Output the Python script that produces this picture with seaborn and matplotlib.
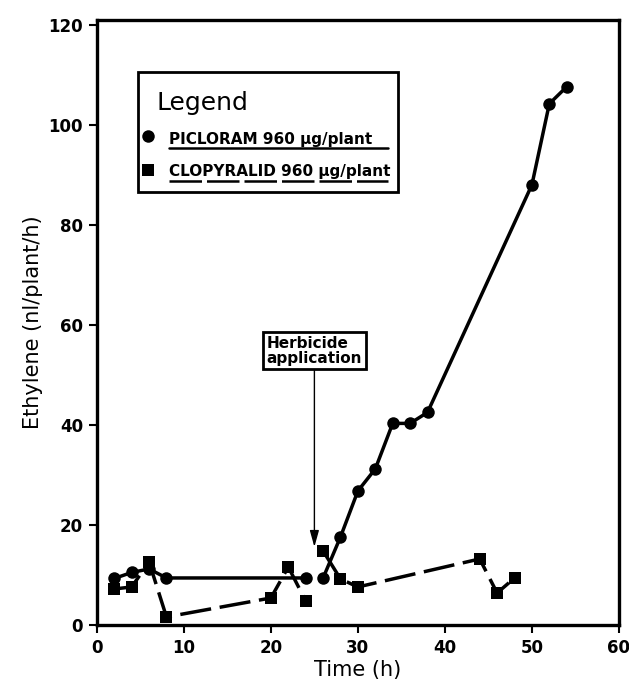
import matplotlib
matplotlib.use("Agg")
import matplotlib.pyplot as plt
import seaborn as sns
import pandas as pd
from matplotlib.patches import Rectangle
from matplotlib.lines import Line2D

# ── data ──────────────────────────────────────
# picloram, before / after herbicide application
pic_pre_t = [2, 4, 6, 8, 24]
pic_pre_y = [9.3, 10.5, 11.2, 9.4, 9.4]
pic_post_t = [26, 28, 30, 32, 34, 36, 38, 50, 52, 54]
pic_post_y = [9.4, 17.6, 26.8, 31.2, 40.3, 40.3, 42.5, 88.0, 104.2, 107.6]

# clopyralid, before / after herbicide application
clo_pre_t = [2, 4, 6, 8, 20, 22, 24]
clo_pre_y = [7.2, 7.6, 12.6, 1.6, 5.4, 11.6, 4.8]
clo_post_t = [26, 28, 30, 44, 46, 48]
clo_post_y = [14.8, 9.2, 7.6, 13.2, 6.4, 9.4]

x_ticks = [0, 10, 20, 30, 40, 50, 60]
y_ticks = [0, 20, 40, 60, 80, 100, 120]

pic_label = "PICLORAM 960 \u00b5g/plant"
clo_label = "CLOPYRALID 960 \u00b5g/plant"
arrow_label = "Herbicide\napplication"
arrow_t, arrow_y = 25, 15.6

# ── style ─────────────────────────────────────
sns.set_style("ticks")
plt.rcParams["font.family"] = ["DejaVu Sans"]
plt.rcParams.update({"text.color": "black", "axes.labelcolor": "black",
                     "xtick.color": "black", "ytick.color": "black",
                     "axes.edgecolor": "black"})
LW = 2.5
DASH = (0, (9, 2.5))

fig = plt.figure(figsize=(6.29, 6.82), dpi=100)
ax = fig.add_axes([0.154, 0.0836, 0.830, 0.8875])

segments = [
    (pic_pre_t, pic_pre_y, "o", "-"),
    (pic_post_t, pic_post_y, "o", "-"),
    (clo_pre_t, clo_pre_y, "s", DASH),
    (clo_post_t, clo_post_y, "s", DASH),
]
for t, y, mk, ls in segments:
    seg = pd.DataFrame({"t": t, "y": y})
    sns.lineplot(data=seg, x="t", y="y", ax=ax, color="black", linewidth=LW,
                 linestyle=ls, marker=mk, markersize=9, markeredgewidth=0,
                 estimator=None, sort=False)

ax.set_xlim(0, 60)
ax.set_ylim(0, 121)
ax.set_xticks(x_ticks)
ax.set_yticks(y_ticks)
ax.tick_params(direction="out", length=6, width=1.5, labelsize=12, pad=4)
for lab in ax.get_xticklabels() + ax.get_yticklabels():
    lab.set_fontweight("bold")
for spine in ax.spines.values():
    spine.set_visible(True)
    spine.set_linewidth(2.4)
ax.set_xlabel("Time (h)", fontsize=15, labelpad=2)
ax.set_ylabel("Ethylene (nl/plant/h)", fontsize=15, labelpad=4)

# ── hand-made legend box ─────────────────────
tr = ax.transAxes
ax.add_patch(Rectangle((0.0785, 0.716), 0.498, 0.198, transform=tr,
                       fill=False, edgecolor="black", linewidth=2.0))
ax.text(0.115, 0.863, "Legend", transform=tr, fontsize=18, va="center")
ax.add_line(Line2D([0.0977], [0.808], transform=tr, marker="o",
                   markersize=9, color="black", markeredgewidth=0))
ax.add_line(Line2D([0.0977], [0.752], transform=tr, marker="s",
                   markersize=8, color="black", markeredgewidth=0))
ax.text(0.138, 0.795, pic_label, transform=tr, fontsize=11,
        fontweight="bold", va="baseline")
ax.text(0.138, 0.742, clo_label, transform=tr, fontsize=11,
        fontweight="bold", va="baseline")
ax.add_line(Line2D([0.138, 0.557], [0.788], transform=tr,
                   color="black", linewidth=1.8))
ax.add_line(Line2D([0.138, 0.557], [0.733], transform=tr,
                   color="black", linewidth=1.8, linestyle=(0, (13, 2))))

# ── herbicide application arrow ──────────────
ax.annotate(arrow_label, xy=(arrow_t, arrow_y), xytext=(arrow_t, 54.8),
            fontsize=11, fontweight="bold", ha="center", va="center",
            multialignment="left", linespacing=0.95,
            bbox=dict(boxstyle="square,pad=0.25", facecolor="white",
                      edgecolor="black", linewidth=2.0),
            arrowprops=dict(arrowstyle="-|>,head_length=0.9,head_width=0.25",
                            color="black", linewidth=1.0, facecolor="white",
                            shrinkA=0, shrinkB=0))

fig.savefig("out.png", dpi=100)
